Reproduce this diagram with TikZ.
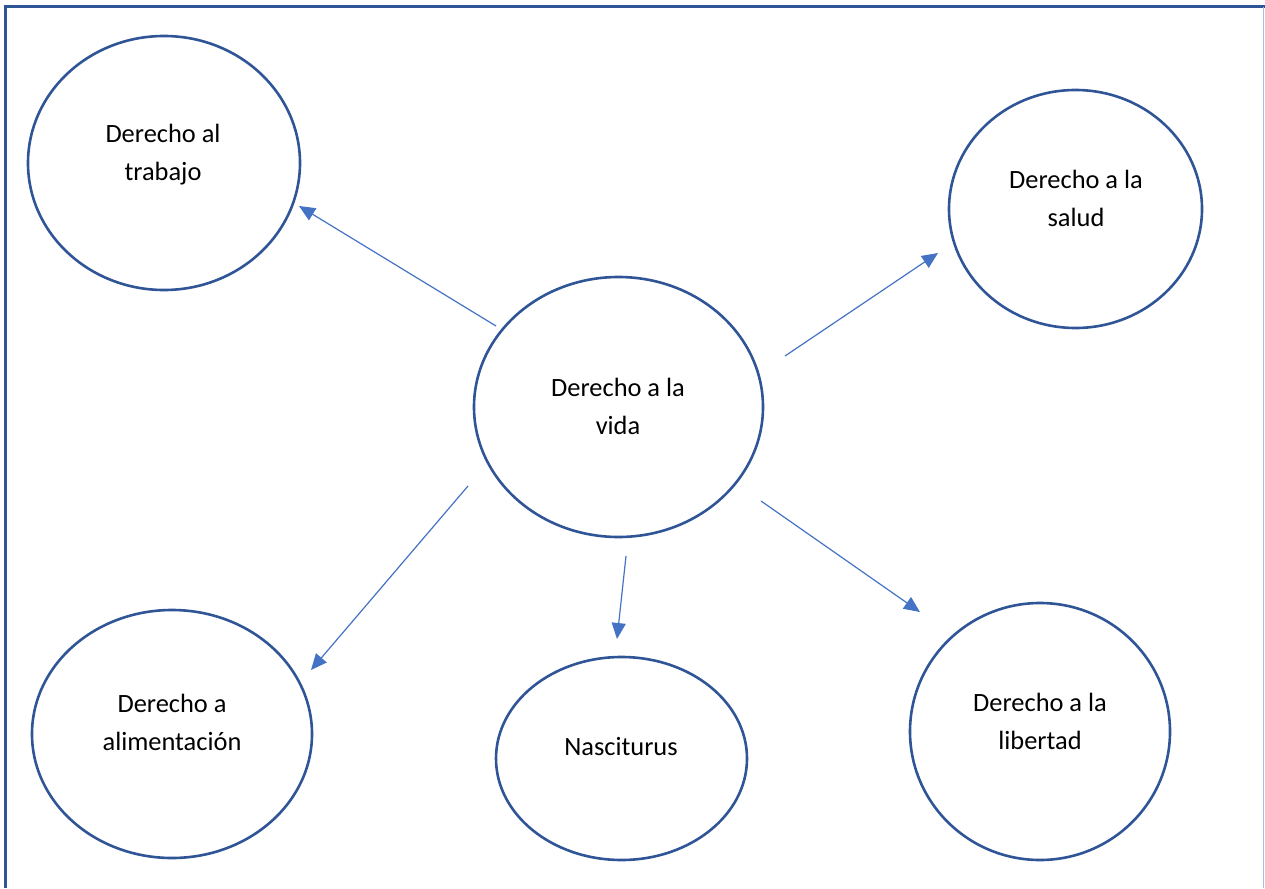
\documentclass[tikz,border=0pt]{standalone}
\usepackage{fontspec}
\setmainfont{Carlito}
\usetikzlibrary{shapes.geometric,arrows.meta}
\definecolor{ringblue}{HTML}{2F5597}
\definecolor{arrowblue}{HTML}{4472C4}
\definecolor{edgegray}{HTML}{A9BEDF}
\tikzset{
  ring/.style={draw=ringblue, line width=2.6pt, ellipse, inner sep=0pt},
  lbl/.style={font=\fontsize{26.4}{38}\selectfont, align=center, anchor=base, inner sep=0pt},
  link/.style={draw=arrowblue, line width=1.2pt, -{Triangle[length=16pt,width=14pt]}},
}
\begin{document}
\begin{tikzpicture}[x=1pt,y=-1pt]
  \useasboundingbox (0,0) rectangle (1265,888);
  % frame
  \draw[ringblue, line width=3pt] (5.5,888) -- (5.5,7) -- (1265,7);
  \draw[edgegray, line width=1.2pt] (1263.5,7) -- (1263.5,888);

  % circles
  \node[ring, minimum width=272pt, minimum height=254pt] (trabajo) at (164,163) {};
  \node[ring, minimum width=253pt, minimum height=238pt] (salud) at (1075.5,209) {};
  \node[ring, minimum width=289pt, minimum height=260pt] (vida) at (618.5,407) {};
  \node[ring, minimum width=280pt, minimum height=248pt] (alim) at (172,734) {};
  \node[ring, minimum width=251pt, minimum height=203pt] (nasc) at (621.5,758.5) {};
  \node[ring, minimum width=260pt, minimum height=257pt] (libertad) at (1040,731.5) {};

  % labels (base anchor sits on the last line)
  \node[lbl] (ttrabajo) at (163,180) {Derecho al\\trabajo};
  \node[lbl] (tsalud) at (1076,226) {Derecho a la\\salud};
  \node[lbl] (tvida) at (618,434) {Derecho a la\\vida};
  \node[lbl] (talim) at (172,750) {Derecho a\\alimentación};
  \node[lbl] (tnasc) at (621,755) {Nasciturus};
  \node[lbl] (tlibertad) at (1040,749) {Derecho a la\\libertad};

  % arrow ends
  \coordinate (v1) at (496,326);  \coordinate (e1) at (299,206);
  \coordinate (v2) at (785,356);  \coordinate (e2) at (938,253);
  \coordinate (v3) at (468,486);  \coordinate (e3) at (311,670);
  \coordinate (v4) at (626,556);  \coordinate (e4) at (617,639);
  \coordinate (v5) at (761,501);  \coordinate (e5) at (920,612);

  \draw[link] (v1) -- (e1);
  \draw[link] (v2) -- (e2);
  \draw[link] (v3) -- (e3);
  \draw[link] (v4) -- (e4);
  \draw[link] (v5) -- (e5);
\end{tikzpicture}
\end{document}
